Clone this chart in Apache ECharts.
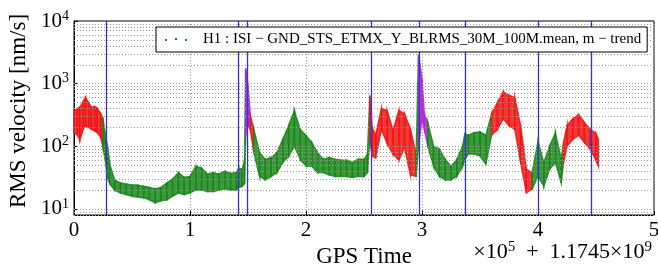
<!DOCTYPE html>
<html>
<head>
<meta charset="utf-8">
<script src="https://cdn.jsdelivr.net/npm/echarts@6/dist/echarts.min.js"></script>
<style>
  html, body { margin: 0; padding: 0; background: #fff; }
  #main { width: 658px; height: 266px; }
</style>
</head>
<body>
<div id="main"></div>
<script>
var myChart = echarts.init(document.getElementById('main'));

// GPS time offsets (x10^5 s) and band of RMS velocity values [nm/s]
var times = [0.00, 0.03, 0.05, 0.08, 0.10, 0.13, 0.15, 0.18, 0.20, 0.23, 0.25, 0.27, 0.29, 0.31, 0.35,
  0.40, 0.45, 0.50, 0.55, 0.60, 0.65, 0.70, 0.75, 0.80, 0.85, 0.90, 0.95, 1.00, 1.05, 1.10,
  1.15, 1.20, 1.25, 1.30, 1.35, 1.40, 1.42, 1.45, 1.47, 1.48, 1.50, 1.52, 1.55, 1.60, 1.65,
  1.70, 1.75, 1.80, 1.85, 1.90, 1.95, 2.00, 2.05, 2.10, 2.15, 2.20, 2.25, 2.30, 2.35, 2.40,
  2.45, 2.50, 2.53, 2.55, 2.57, 2.60, 2.65, 2.70, 2.75, 2.80, 2.85, 2.90, 2.95, 2.97, 3.00,
  3.02, 3.05, 3.10, 3.15, 3.20, 3.25, 3.30, 3.35, 3.37, 3.40, 3.45, 3.50, 3.55, 3.60, 3.65,
  3.70, 3.75, 3.80, 3.85, 3.90, 3.95, 4.00, 4.05, 4.10, 4.15, 4.20, 4.22, 4.25, 4.30, 4.35,
  4.40, 4.45, 4.50, 4.52];
var lows = [166, 150, 125, 190, 213, 200, 187, 175, 166, 140, 95, 60, 30, 25, 20,
  18, 17, 16, 15.5, 15, 14, 12.5, 13.5, 14, 16, 18, 17, 18, 20, 20,
  19, 19, 20, 21, 20, 20, 22, 23, 25, 150, 214, 186, 79, 33, 29,
  33, 38, 55, 69, 100, 62, 48, 48, 38, 38, 35, 33, 33, 33, 32,
  33, 33, 38, 130, 70, 65, 186, 110, 75, 60, 95, 35, 33, 100, 275,
  190, 100, 48, 33, 29, 29, 33, 48, 62, 75, 75, 70, 52, 150, 186,
  275, 214, 186, 55, 18, 21, 33, 23, 43, 55, 26, 55, 100, 129, 150,
  115, 90, 60, 48];
var highs = [370, 400, 420, 520, 600, 480, 420, 430, 400, 330, 280, 150, 100, 50, 29,
  26, 25, 24, 24, 23, 22, 21, 22, 26, 30, 38, 32, 33, 48, 45,
  36, 38, 36, 40, 37, 38, 45, 43, 60, 1740, 930, 310, 186, 79, 62,
  66, 79, 129, 214, 372, 186, 148, 115, 79, 62, 66, 62, 60, 60, 55,
  62, 62, 75, 646, 200, 150, 398, 372, 180, 372, 330, 186, 75, 2900, 1200,
  330, 240, 100, 89, 62, 48, 62, 100, 160, 150, 165, 170, 150, 330, 500,
  740, 650, 600, 214, 43, 38, 120, 55, 100, 165, 62, 115, 214, 275, 320,
  240, 186, 160, 130];
// colour of the segment ending at each time: r = red, g = green, m = magenta
var segColors = 'rrrrrrrrrrrgggggggggggggggggggggggggggggmmrgggggggggggggggggggggrrrrrrrrrgmmmggggggggggggrrrrrrrggggggrrrrrrrr';
// vertical blue markers
var markers = [0.28, 1.42, 1.49, 2.555, 2.977, 3.368, 3.997, 4.46];
var xTicks = [0, 1, 2, 3, 4, 5];

var colorMap = { r: '#f01414', g: '#1a861a', m: '#b024d6' };

var bandData = [];
for (var i = 1; i < times.length; i++) {
  bandData.push({
    value: [times[i - 1], lows[i - 1], highs[i - 1], times[i], lows[i], highs[i]],
    itemStyle: { color: colorMap[segColors.charAt(i)] || '#1a861a' }
  });
}

// minor log grid values
var minorGrid = [];
for (var e = 0; e <= 3; e++) {
  for (var m = 1; m <= 9; m++) {
    var v = m * Math.pow(10, e);
    if (v >= 8 && v <= 10000) minorGrid.push({ yAxis: v });
  }
}

var serif = 'Liberation Serif';
var legendName = 'H1 : ISI − GND_STS_ETMX_Y_BLRMS_30M_100M.mean, m − trend';

var option = {
  animation: false,
  textStyle: { fontFamily: serif },
  grid: {
    left: 74, right: 4, top: 21, bottom: 51,
    outerBoundsMode: 'none',
    show: true, borderColor: '#000', borderWidth: 1
  },
  legend: {
    left: 156, top: 27, z: 20,
    padding: [5, 6, 5, 9],
    backgroundColor: '#fff',
    borderColor: '#000', borderWidth: 1, borderRadius: 0,
    itemWidth: 22, itemHeight: 3,
    icon: 'path://M0,1h2v2h-2zM10,0h2v2h-2zM20,1h2v2h-2z',
    textStyle: { fontFamily: serif, fontSize: 15, color: '#000', padding: [0, 0, 0, 11] },
    data: [legendName]
  },
  xAxis: {
    type: 'value', min: 0, max: 5, interval: 1,
    name: 'GPS Time', nameLocation: 'middle', nameGap: 22,
    nameTextStyle: { fontFamily: serif, fontSize: 23, color: '#000' },
    axisLine: { lineStyle: { color: '#000' } },
    axisTick: { inside: true, length: 4, lineStyle: { color: '#000' } },
    axisLabel: {
      margin: 5, fontSize: 21, color: '#000', fontFamily: serif,
      formatter: function (val) { return xTicks.indexOf(val) >= 0 ? String(val) : ''; }
    },
    splitLine: { show: true, lineStyle: { color: '#999', type: [1, 2], width: 1 } }
  },
  yAxis: {
    type: 'log', logBase: 10, min: 8, max: 10000,
    name: 'RMS velocity [nm/s]', nameLocation: 'middle', nameGap: 33, nameRotate: 90,
    nameTextStyle: { fontFamily: serif, fontSize: 23, color: '#000', padding: [0, 0, 0, 14] },
    axisLine: { lineStyle: { color: '#000' } },
    axisTick: { inside: true, length: 4, lineStyle: { color: '#000' } },
    axisLabel: {
      margin: 5, color: '#000', fontFamily: serif,
      formatter: function (val) {
        var p = Math.log(val) / Math.LN10;
        if (Math.abs(p - Math.round(p)) > 1e-6) return '';
        return '{b|10}{s|' + Math.round(p) + '}';
      },
      rich: {
        b: { fontSize: 21, fontFamily: serif, color: '#000' },
        s: { fontSize: 14, fontFamily: serif, color: '#000', verticalAlign: 'bottom', padding: [0, 0, 10, 0] }
      }
    },
    splitLine: { show: false }
  },
  series: [
    {
      name: legendName,
      type: 'custom',
      itemStyle: { color: '#1a861a' },
      encode: { x: [0, 3], y: [1, 2, 4, 5] },
      renderItem: function (params, api) {
        var a = api.coord([api.value(0), api.value(1)]);
        var b = api.coord([api.value(3), api.value(4)]);
        var c = api.coord([api.value(3), api.value(5)]);
        var d = api.coord([api.value(0), api.value(2)]);
        var col = api.visual('color');
        return {
          type: 'polygon',
          shape: { points: [a, b, c, d] },
          style: { fill: col, stroke: col, lineWidth: 1.5, opacity: 0.85 }
        };
      },
      data: bandData,
      markLine: {
        silent: true, symbol: 'none', animation: false,
        label: { show: false },
        lineStyle: { color: '#999', type: [1, 2], width: 1 },
        data: minorGrid
      },
      z: 2
    },
    {
      type: 'line',
      data: [],
      markLine: {
        silent: true, symbol: 'none', animation: false,
        label: { show: false },
        lineStyle: { color: '#3434d4', type: 'solid', width: 1.3 },
        data: markers.map(function (x) { return { xAxis: x }; })
      },
      z: 3
    }
  ],
  graphic: [
    {
      type: 'text', right: 6, top: 240,
      style: {
        text: '{b|×10}{s|5}{b|  +  1.1745×10}{s|9}',
        rich: {
          b: { fontSize: 22, fontFamily: serif, fill: '#000' },
          s: { fontSize: 15, fontFamily: serif, fill: '#000', verticalAlign: 'bottom', padding: [0, 0, 10, 0] }
        }
      }
    }
  ]
};

myChart.setOption(option);
</script>
</body>
</html>
